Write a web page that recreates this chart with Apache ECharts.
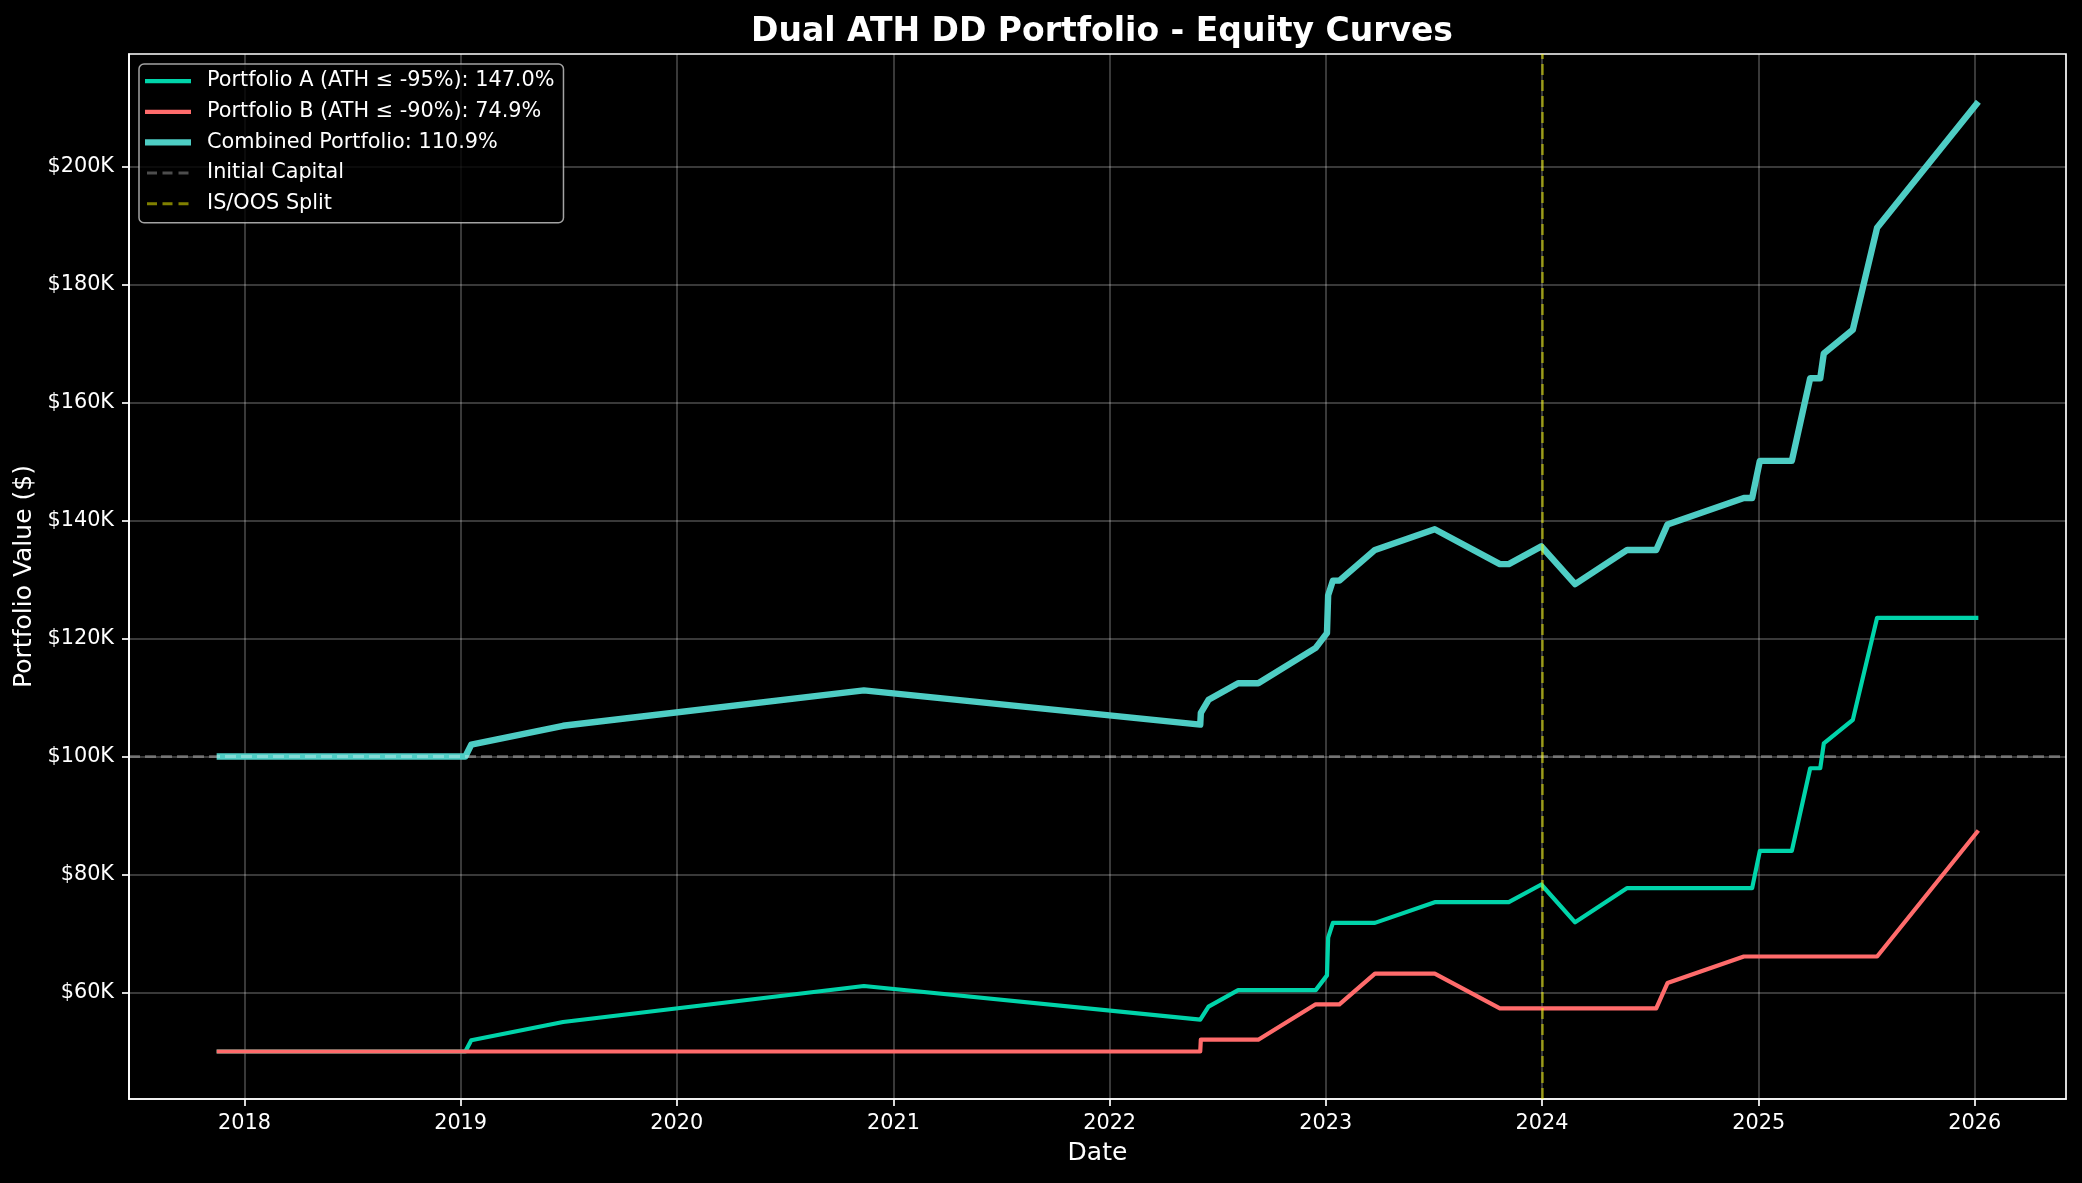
<!DOCTYPE html>
<html>
<head>
<meta charset="utf-8">
<script src="https://cdn.jsdelivr.net/npm/echarts@6/dist/echarts.min.js"></script>
<style>
  html, body { margin: 0; padding: 0; background: #000; }
  #chart { width: 2082px; height: 1183px; }
</style>
</head>
<body>
<div id="chart"></div>
<script>
// ---- Data ----
const dates = [
  '2017-11-15', '2019-01-09', '2019-01-19', '2019-06-23', '2020-11-12',
  '2022-06-03', '2022-06-04', '2022-06-17', '2022-08-06', '2022-09-09',
  '2022-12-15', '2023-01-03', '2023-01-05', '2023-01-13', '2023-01-24',
  '2023-03-25', '2023-07-04', '2023-10-22', '2023-11-06', '2023-12-31',
  '2024-02-26', '2024-05-24', '2024-07-12', '2024-07-31', '2024-12-07',
  '2024-12-21', '2025-01-03', '2025-02-26', '2025-03-29', '2025-04-15',
  '2025-04-21', '2025-06-09', '2025-07-20', '2026-01-07'
];
const portfolioA = [
  50000, 50000, 51900, 55000, 61100, 55400, 55400, 57600, 60400, 60400,
  60400, 62900, 69300, 71800, 71800, 71800, 75300, 75300, 75300, 78300,
  71900, 77700, 77700, 77700, 77700, 77700, 84000, 84000, 98000, 98000,
  102200, 106200, 123500, 123500
];
const portfolioB = [
  50000, 50000, 50000, 50000, 50000, 50000, 52000, 52000, 52000, 52000,
  58000, 58000, 58000, 58000, 58000, 63200, 63200, 57300, 57300, 57300,
  57300, 57300, 57300, 61600, 66100, 66100, 66100, 66100, 66100, 66100,
  66100, 66100, 66100, 87450
];
const combined = [
  100000, 100000, 102000, 105200, 111200, 105400, 107400, 109600, 112400, 112400,
  118400, 120900, 127300, 129800, 129800, 135000, 138500, 132600, 132600, 135600,
  129200, 135000, 135000, 139300, 143800, 143800, 150100, 150100, 164100, 164100,
  168300, 172300, 189600, 210950
];
const seriesNames = [
  'Portfolio A (ATH \u2264 -95%): 147.0%',
  'Portfolio B (ATH \u2264 -90%): 74.9%',
  'Combined Portfolio: 110.9%',
  'Initial Capital',
  'IS/OOS Split'
];
const initialCapital = 100000;
const splitDate = '2024-01-01';
const yearLabels = ['2018', '2019', '2020', '2021', '2022', '2023', '2024', '2025', '2026'];
const yTickValues = [60000, 80000, 100000, 120000, 140000, 160000, 180000, 200000];
const yTickLabels = ['$60K', '$80K', '$100K', '$120K', '$140K', '$160K', '$180K', '$200K'];
const xRange = ['2017-06-20', '2026-06-04'];
const yRange = [41950, 219050];

// ---- Build ----
const FONT = 'DejaVu Sans';
const toTs = s => { const p = s.split('-').map(Number); return Date.UTC(p[0], p[1] - 1, p[2]); };
const yearTicks = yearLabels.map(y => Date.UTC(+y, 0, 1));
const pair = arr => dates.map((d, i) => [toTs(d), arr[i]]);

const gridColor = 'rgba(255,255,255,0.3)';
const colA = '#00d4aa', colB = '#ff6b6b', colC = '#4ecdc4';
const colInit = 'rgba(255,255,255,0.3)', colSplit = 'rgba(255,255,0,0.5)';

// legend handle shapes (46 x 14 box)
const iconThin = 'path://M0,0M46,14M0,5h46v4.2h-46z';
const iconThick = 'path://M0,0M46,14M0,3.9h46v6.2h-46z';
const iconDash = 'path://M0,0M46,14M2,5.5h10v3h-10zM17.5,5.5h10v3h-10zM33.5,5.5h10v3h-10z';

const chart = echarts.init(document.getElementById('chart'), null, { renderer: 'canvas' });
chart.setOption({
  backgroundColor: '#000000',
  animation: false,
  title: {
    text: 'Dual ATH DD Portfolio - Equity Curves',
    left: 1097, top: 11, textAlign: 'center',
    textStyle: { color: '#ffffff', fontFamily: FONT, fontWeight: 'bold', fontSize: 33 }
  },
  grid: {
    left: 129, right: 16, top: 54, bottom: 84,
    show: true, borderColor: '#ffffff', borderWidth: 1.7, backgroundColor: 'transparent'
  },
  legend: {
    orient: 'vertical', left: 139, top: 64,
    padding: [6, 9, 8, 6],
    itemGap: 8.7, itemWidth: 46, itemHeight: 14,
    backgroundColor: 'rgba(0,0,0,0.8)',
    borderColor: 'rgba(204,204,204,0.8)', borderWidth: 1.5, borderRadius: 5,
    textStyle: { color: '#ffffff', fontFamily: FONT, fontSize: 20.8, lineHeight: 22, padding: [0, 0, 0, 11] },
    data: [
      { name: seriesNames[0], icon: iconThin, itemStyle: { color: colA, borderWidth: 0 } },
      { name: seriesNames[1], icon: iconThin, itemStyle: { color: colB, borderWidth: 0 } },
      { name: seriesNames[2], icon: iconThick, itemStyle: { color: colC, borderWidth: 0 } },
      { name: seriesNames[3], icon: iconDash, itemStyle: { color: colInit, borderWidth: 0 } },
      { name: seriesNames[4], icon: iconDash, itemStyle: { color: colSplit, borderWidth: 0 } }
    ]
  },
  xAxis: {
    type: 'value',
    min: toTs(xRange[0]), max: toTs(xRange[1]),
    name: 'Date', nameLocation: 'middle', nameGap: 42,
    nameTextStyle: { color: '#ffffff', fontFamily: FONT, fontSize: 25 },
    axisLine: { show: true, lineStyle: { color: '#ffffff', width: 1.7 } },
    axisTick: { show: true, inside: false, length: 7, customValues: yearTicks, lineStyle: { color: '#ffffff', width: 1.7 } },
    axisLabel: {
      customValues: yearTicks, margin: 14, color: '#ffffff', fontFamily: FONT, fontSize: 20.8,
      formatter: v => String(new Date(v).getUTCFullYear())
    },
    splitLine: { show: true, lineStyle: { color: gridColor, width: 1.5 } }
  },
  yAxis: {
    type: 'value',
    min: yRange[0], max: yRange[1],
    name: 'Portfolio Value ($)', nameLocation: 'middle', nameGap: 88,
    nameTextStyle: { color: '#ffffff', fontFamily: FONT, fontSize: 25 },
    axisLine: { show: true, lineStyle: { color: '#ffffff', width: 1.7 } },
    axisTick: { show: true, inside: false, length: 7, customValues: yTickValues, lineStyle: { color: '#ffffff', width: 1.7 } },
    axisLabel: {
      customValues: yTickValues, margin: 15, color: '#ffffff', fontFamily: FONT, fontSize: 20.8,
      formatter: v => yTickLabels[yTickValues.indexOf(v)] || ''
    },
    splitLine: { show: true, lineStyle: { color: gridColor, width: 1.5 } }
  },
  series: [
    {
      name: seriesNames[0], type: 'line', symbol: 'none', data: pair(portfolioA),
      lineStyle: { color: colA, width: 4.2, join: 'round' }, itemStyle: { color: colA }
    },
    {
      name: seriesNames[1], type: 'line', symbol: 'none', data: pair(portfolioB),
      lineStyle: { color: colB, width: 4.2, join: 'round' }, itemStyle: { color: colB }
    },
    {
      name: seriesNames[2], type: 'line', symbol: 'none', data: pair(combined),
      lineStyle: { color: colC, width: 6.4, join: 'round' }, itemStyle: { color: colC }
    },
    {
      name: seriesNames[3], type: 'line', symbol: 'none', data: [],
      lineStyle: { color: colInit, width: 3, type: [11, 5] },
      itemStyle: { color: colInit },
      markLine: {
        silent: true, symbol: ['none', 'none'], label: { show: false },
        lineStyle: { color: colInit, width: 3, type: [11, 5] },
        data: [{ yAxis: initialCapital }]
      }
    },
    {
      name: seriesNames[4], type: 'line', symbol: 'none', data: [],
      lineStyle: { color: colSplit, width: 2.5, type: [11, 5] },
      itemStyle: { color: colSplit },
      markLine: {
        silent: true, symbol: ['none', 'none'], label: { show: false },
        lineStyle: { color: colSplit, width: 2.5, type: [11, 5] },
        data: [{ xAxis: toTs(splitDate) }]
      }
    }
  ]
});
</script>
</body>
</html>
